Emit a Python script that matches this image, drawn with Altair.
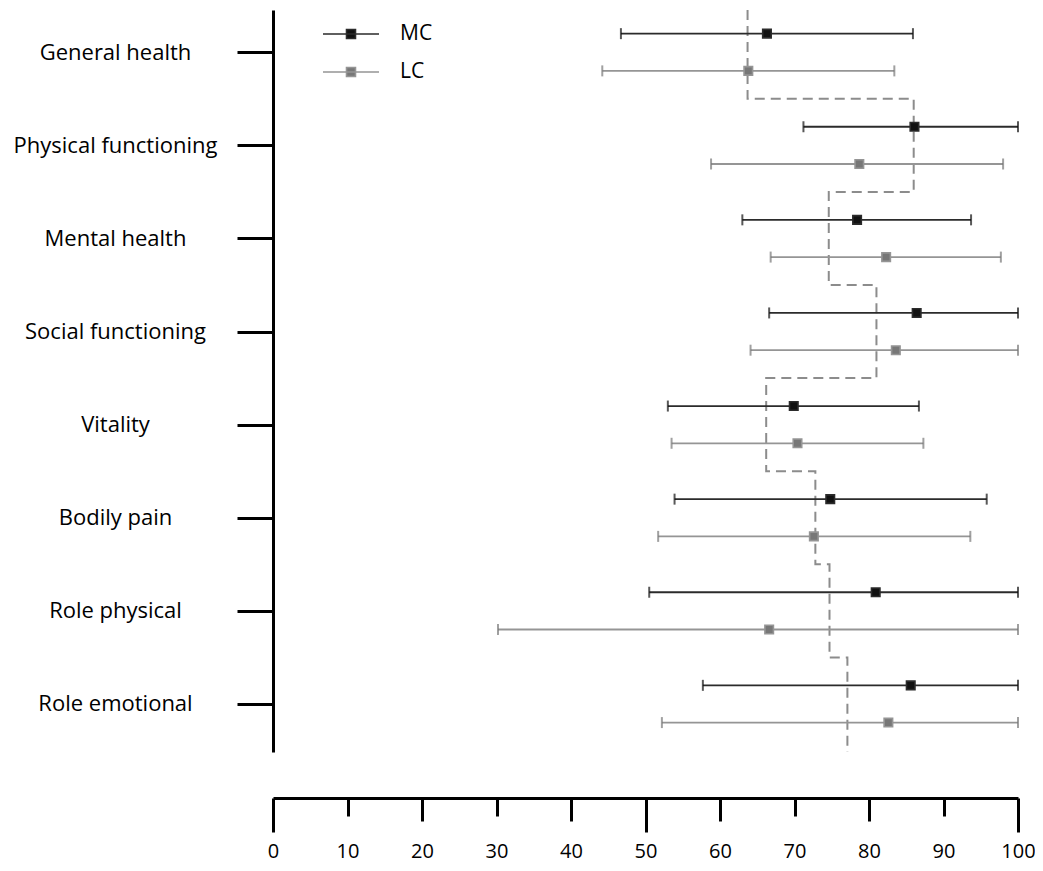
import json
import altair as alt
import pandas as pd

# ---------------- data ----------------
categories = ["General health", "Physical functioning", "Mental health",
              "Social functioning", "Vitality", "Bodily pain",
              "Role physical", "Role emotional"]
groups = ["MC", "LC"]

mc_mean = [66.3, 86.1, 78.4, 86.4, 69.9, 74.8, 80.9, 85.6]
mc_low = [46.7, 71.2, 63.0, 66.6, 53.0, 53.9, 50.5, 57.7]
mc_high = [85.9, 100.0, 93.7, 100.0, 86.7, 95.8, 100.0, 100.0]

lc_mean = [63.8, 78.7, 82.3, 83.6, 70.4, 72.6, 66.6, 82.6]
lc_low = [44.2, 58.8, 66.8, 64.1, 53.5, 51.7, 30.2, 52.2]
lc_high = [83.4, 98.0, 97.7, 100.0, 87.3, 93.6, 100.0, 100.0]

reference = [63.7, 86.0, 74.6, 81.0, 66.2, 72.8, 74.7, 77.1]

x_ticks = [0, 10, 20, 30, 40, 50, 60, 70, 80, 90, 100]

# ---------------- layout helpers ----------------
Y_TOP, Y_BOTTOM = -0.454, 7.516
OFFSET = {"MC": -0.2, "LC": 0.2}

rows = []
series = {"MC": (mc_mean, mc_low, mc_high), "LC": (lc_mean, lc_low, lc_high)}
for g in groups:
    m, lo, hi = series[g]
    for i, c in enumerate(categories):
        rows.append({"category": c, "group": g, "pos": i + OFFSET[g],
                     "mean": m[i], "lo": lo[i], "hi": hi[i]})
df = pd.DataFrame(rows)

step_rows = []
n = len(categories)
k = 0
for i, r in enumerate(reference):
    y0 = Y_TOP if i == 0 else i - 0.5
    y1 = Y_BOTTOM if i == n - 1 else i + 0.5
    step_rows.append({"ref": r, "y": y0, "ord": k}); k += 1
    step_rows.append({"ref": r, "y": y1, "ord": k}); k += 1
step_df = pd.DataFrame(step_rows)

FONT = "Open Sans"
stroke_scale = alt.Scale(domain=groups, range=["#2b2b2b", "#959595"])
fill_scale = alt.Scale(domain=groups, range=["#111111", "#777777"])

x_scale = alt.Scale(domain=[0, 100], nice=False, zero=False)
y_scale = alt.Scale(domain=[Y_TOP, Y_BOTTOM], nice=False, zero=False, reverse=True)

label_expr = json.dumps(categories) + "[datum.value]"

x_axis = alt.Axis(
    values=x_ticks, format="d", title=None, grid=False, offset=46,
    domainWidth=3, domainColor="black", tickColor="black", tickWidth=3,
    tickSize={"condition": [{"test": "datum.value % 50 === 0", "value": 34},
                            {"test": "datum.value % 20 === 0", "value": 23}],
              "value": 18},
    labelPadding={"condition": [{"test": "datum.value % 50 === 0", "value": 9},
                                {"test": "datum.value % 20 === 0", "value": 20}],
                  "value": 25},
    labelFont=FONT, labelFontSize=20, labelColor="black",
    labelFlush=False, labelBound=False, labelOverlap=False, labelLimit=0,
)
y_axis = alt.Axis(
    values=list(range(n)), labelExpr=label_expr, title=None, grid=False,
    domainWidth=3, domainColor="black", tickColor="black", tickWidth=3,
    tickSize=36, labelPadding=122, labelAlign="center", labelBaseline="middle",
    labelFont=FONT, labelFontSize=22, labelColor="black",
    labelFlush=False, labelBound=False, labelOverlap=False, labelLimit=0,
)

legend = alt.Legend(
    title=None, orient="none", legendX=49, legendY=5,
    symbolType="M-1,0H1M-0.16,-0.16H0.16V0.16H-0.16Z",
    symbolSize=3136, symbolStrokeWidth=1.6,
    labelFont=FONT, labelFontSize=21, labelColor="black", labelOffset=20,
    labelLimit=0, clipHeight=38, rowPadding=0, padding=0,
)

base = alt.Chart(df)

step = alt.Chart(step_df).mark_line(
    color="#8c8c8c", strokeWidth=2, strokeDash=[10, 6]
).encode(
    x=alt.X("ref:Q", scale=x_scale, axis=x_axis),
    y=alt.Y("y:Q", scale=y_scale, axis=y_axis),
    order="ord:Q",
)

bars = base.mark_rule(strokeWidth=1.8).encode(
    x=alt.X("lo:Q", scale=x_scale, axis=x_axis),
    x2="hi:Q",
    y=alt.Y("pos:Q", scale=y_scale, axis=y_axis),
    stroke=alt.Stroke("group:N", scale=stroke_scale, legend=legend),
)

caps = base.transform_fold(["lo", "hi"], as_=["end", "xv"]).mark_tick(
    orient="vertical", size=11, thickness=2
).encode(
    x=alt.X("xv:Q", scale=x_scale, axis=x_axis),
    y=alt.Y("pos:Q", scale=y_scale, axis=y_axis),
    fill=alt.Fill("group:N", scale=fill_scale, legend=legend),
)

squares = base.mark_square(size=72, filled=True, opacity=1, strokeWidth=1.6).encode(
    x=alt.X("mean:Q", scale=x_scale, axis=x_axis),
    y=alt.Y("pos:Q", scale=y_scale, axis=y_axis),
    fill=alt.Fill("group:N", scale=fill_scale, legend=legend),
    stroke=alt.Stroke("group:N", scale=stroke_scale, legend=legend),
)

chart = alt.layer(step, bars, caps, squares).properties(
    width=745, height=742,
    autosize=alt.AutoSizeParams(type="none"),
    padding={"left": 265, "top": 2, "right": 17, "bottom": 110},
).configure(font=FONT).configure_view(stroke=None)

chart.save("out.html", embed_options={"renderer": "svg", "actions": False})
